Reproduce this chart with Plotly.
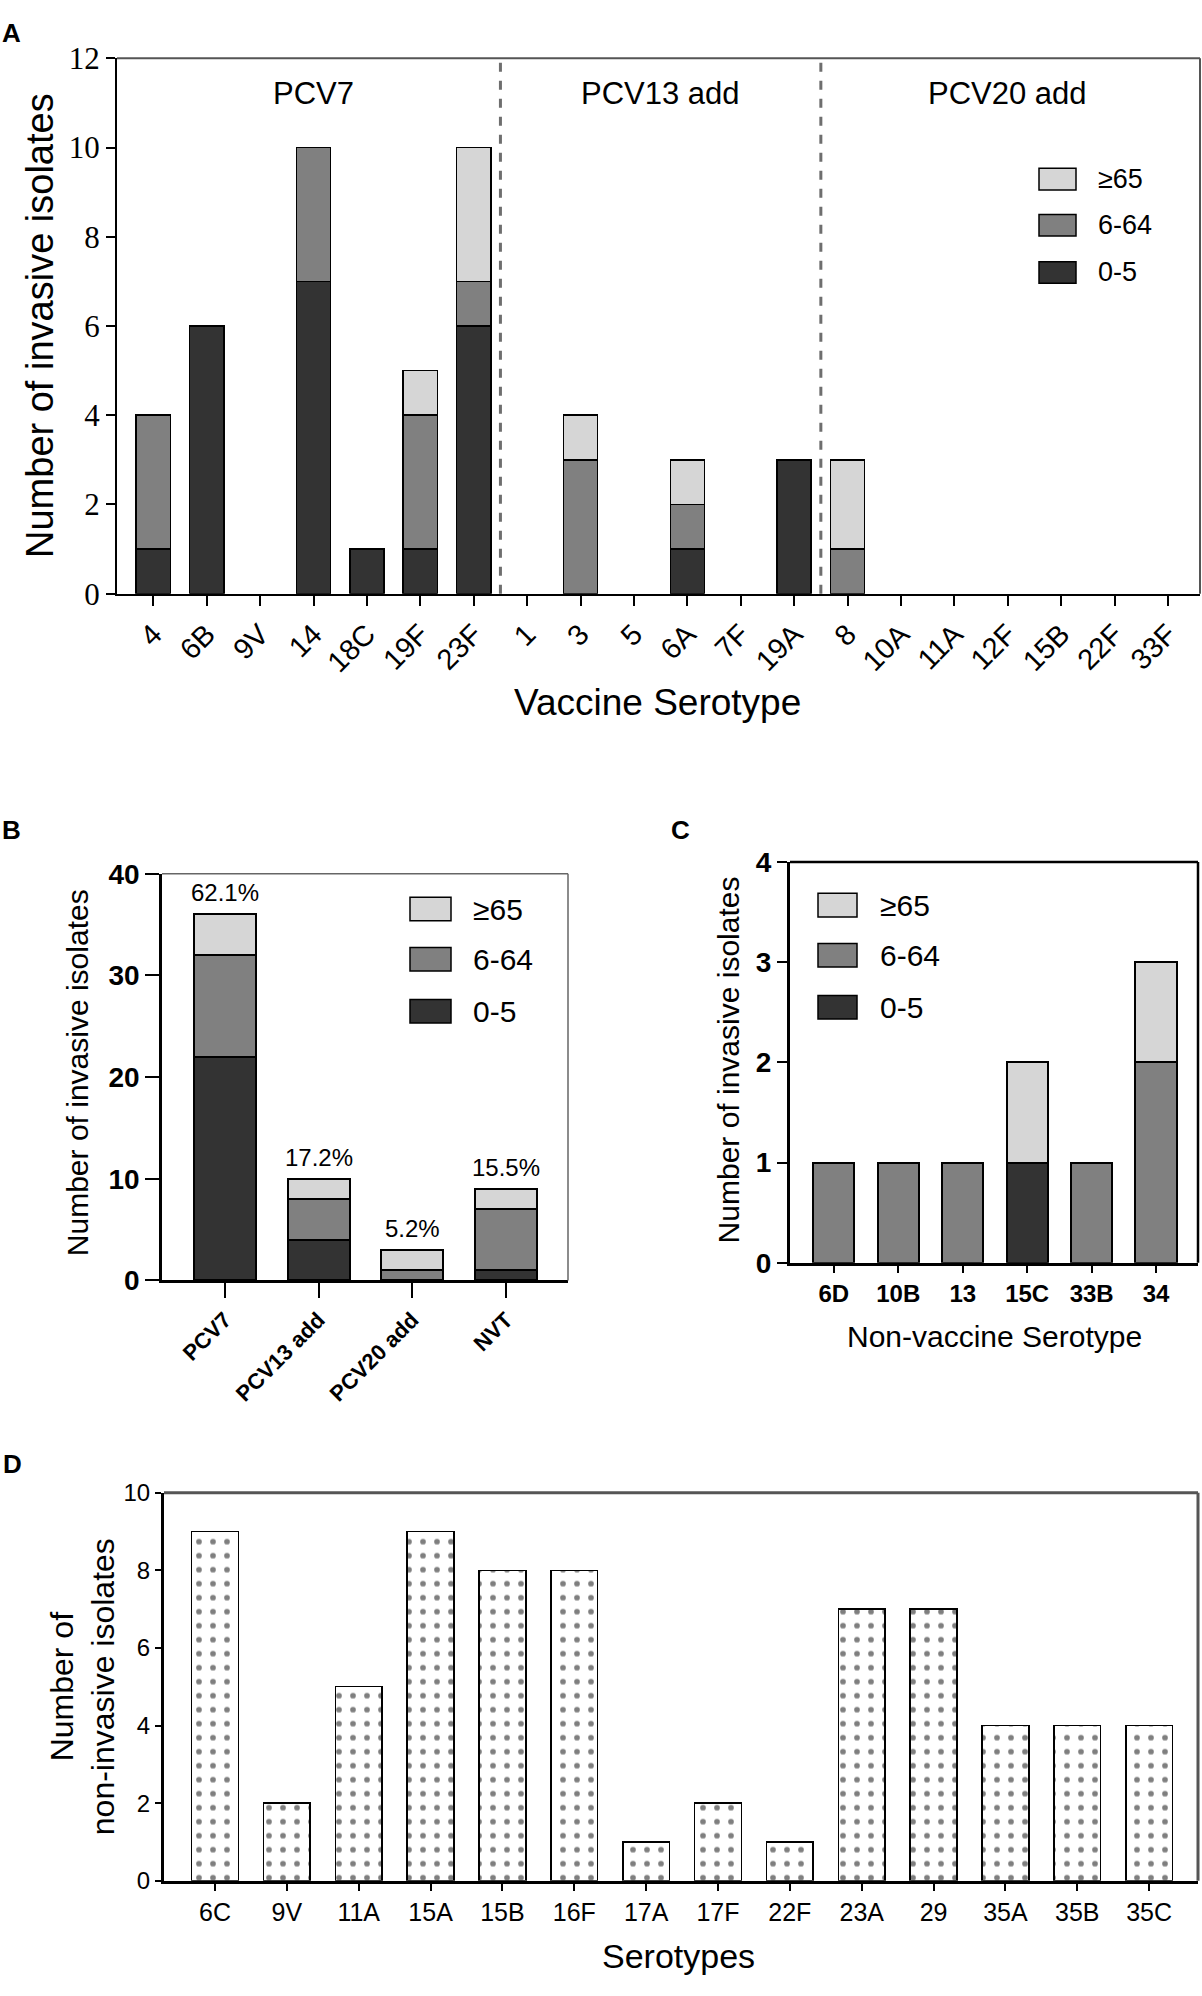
import plotly.graph_objects as go

W, H = 1202, 1996

# ---- data -------------------------------------------------------------
age_groups = ["0-5", "6-64", "≥65"]
age_colors = ["#333333", "#808080", "#d6d6d6"]

# A: invasive isolates by vaccine serotype
a_pcv7 = ["4", "6B", "9V", "14", "18C", "19F", "23F"]
a_pcv13_add = ["1", "3", "5", "6A", "7F", "19A"]
a_pcv20_add = ["8", "10A", "11A", "12F", "15B", "22F", "33F"]
a_serotypes = a_pcv7 + a_pcv13_add + a_pcv20_add
a_0_5 = [1, 6, 0, 7, 1, 1, 6, 0, 0, 0, 1, 0, 3, 0, 0, 0, 0, 0, 0, 0]
a_6_64 = [3, 0, 0, 3, 0, 3, 1, 0, 3, 0, 1, 0, 0, 1, 0, 0, 0, 0, 0, 0]
a_65 = [0, 0, 0, 0, 0, 1, 3, 0, 1, 0, 1, 0, 0, 2, 0, 0, 0, 0, 0, 0]
a_group_names = ["PCV7", "PCV13 add", "PCV20 add"]

# B: invasive isolates by vaccine group
b_groups = ["PCV7", "PCV13 add", "PCV20 add", "NVT"]
b_0_5 = [22, 4, 0, 1]
b_6_64 = [10, 4, 1, 6]
b_65 = [4, 2, 2, 2]

# C: invasive isolates, non-vaccine serotypes
c_serotypes = ["6D", "10B", "13", "15C", "33B", "34"]
c_0_5 = [0, 0, 0, 1, 0, 0]
c_6_64 = [1, 1, 1, 0, 1, 2]
c_65 = [0, 0, 0, 1, 0, 1]

# D: non-invasive isolates
d_serotypes = ["6C", "9V", "11A", "15A", "15B", "16F", "17A", "17F",
               "22F", "23A", "29", "35A", "35B", "35C"]
d_counts = [9, 2, 5, 9, 8, 8, 1, 2, 1, 7, 7, 4, 4, 4]


def fx(px):
    return px / W


def fy(py):
    return 1 - py / H


SANS = "Liberation Sans, Arial, sans-serif"
NARROW = "Liberation Sans Narrow, Arial Narrow, Liberation Sans, sans-serif"
SERIF = "Liberation Serif, Times New Roman, serif"

fig = go.Figure()


def add_stack(x, series, xa, ya, width, lw):
    for name, vals, col in zip(age_groups, series, age_colors):
        # empty segments are skipped so no outline stub is drawn on the axis
        fig.add_trace(go.Bar(
            x=x, y=[v if v else None for v in vals], name=name,
            xaxis=xa, yaxis=ya, width=width, showlegend=False,
            marker=dict(color=col, line=dict(color="black", width=lw)),
        ))


add_stack(a_serotypes, [a_0_5, a_6_64, a_65], "x", "y", 0.64, 1.5)
add_stack(b_groups, [b_0_5, b_6_64, b_65], "x2", "y2", 0.66, 2)
add_stack(c_serotypes, [c_0_5, c_6_64, c_65], "x3", "y3", 0.64, 2)

fig.add_trace(go.Bar(
    x=d_serotypes, y=d_counts, xaxis="x4", yaxis="y4", width=0.65,
    showlegend=False,
    marker=dict(color="white", line=dict(color="black", width=1.5),
                pattern=dict(shape=".", fgcolor="black", bgcolor="white",
                             size=14, solidity=0.13)),
))


def xaxis(dom, rng, anchor, font, angle, ticklen, lw):
    return dict(domain=dom, anchor=anchor, type="category", range=rng,
                showline=True, linecolor="black", linewidth=lw,
                ticks="outside", ticklen=ticklen, tickwidth=2,
                tickcolor="black", tickangle=angle, tickfont=font,
                showgrid=False, zeroline=False, fixedrange=True)


def yaxis(dom, rng, dtick, anchor, font, ticklen, lw):
    return dict(domain=dom, anchor=anchor, range=rng, dtick=dtick,
                showline=True, linecolor="black", linewidth=lw,
                ticks="outside", ticklen=ticklen, tickwidth=2,
                tickcolor="black", tickfont=font,
                showgrid=False, zeroline=False, fixedrange=True)


# panel boxes in pixels: left, top, right, bottom
box_a = (117, 42, 1200, 587)
box_b = (162, 872, 568, 1286)
box_c = (790, 860, 1198, 1268)
box_d = (164, 1502, 1198, 1897)


def dom(box):
    l, t, r, b = box
    return [fx(l), fx(r)], [fy(b), fy(t)]


ax_x, ax_y = dom(box_a)
bx_x, bx_y = dom(box_b)
cx_x, cx_y = dom(box_c)
dx_x, dx_y = dom(box_d)

fig.update_layout(
    width=W, height=H,
    margin=dict(l=0, r=0, t=0, b=0),
    paper_bgcolor="white", plot_bgcolor="white",
    barmode="stack", showlegend=False,
    font=dict(family=SANS, color="black"),
    xaxis=xaxis(ax_x, [-0.68, 19.6], "y",
                dict(family=SANS, size=29, color="black"), -45, 10, 2),
    yaxis=yaxis(ax_y, [0, 12], 2, "x",
                dict(family=SERIF, size=31, color="black"), 9, 2),
    xaxis2=xaxis(bx_x, [-0.67, 3.66], "y2",
                 dict(family=SANS, size=22, color="black", weight="bold"), -45, 15, 2.5),
    yaxis2=yaxis(bx_y, [0, 40], 10, "x2",
                 dict(family=SANS, size=28, color="black", weight="bold"), 14, 2.5),
    xaxis3=xaxis(cx_x, [-0.68, 5.65], "y3",
                 dict(family=NARROW, size=24, color="black", weight="bold"), 0, 7, 3),
    yaxis3=yaxis(cx_y, [0, 4], 1, "x3",
                 dict(family=SANS, size=28, color="black", weight="bold"), 10, 3),
    xaxis4=xaxis(dx_x, [-0.71, 13.68], "y4",
                 dict(family=SANS, size=25, color="black"), 0, 7, 3),
    yaxis4=yaxis(dx_y, [0, 10], 2, "x4",
                 dict(family=SANS, size=24, color="black"), 6, 3),
)

shapes = []
annotations = []


def label(text, x, y, size, family=SANS, angle=0, xanchor="center"):
    annotations.append(dict(x=fx(x), y=fy(y), xref="paper", yref="paper",
                            xanchor=xanchor, yanchor="middle",
                            text=text, textangle=angle, showarrow=False,
                            font=dict(family=family, size=size, color="black")))


# top and right edges of each panel frame
for box, col, w in [(box_a, "#555555", 2), (box_b, "#666666", 1.5),
                    (box_c, "black", 2.5), (box_d, "#555555", 3)]:
    l, t, r, b = box
    shapes.append(dict(type="line", xref="paper", yref="paper",
                       x0=fx(l), x1=fx(r), y0=fy(t), y1=fy(t),
                       line=dict(color=col, width=w)))
    shapes.append(dict(type="line", xref="paper", yref="paper",
                       x0=fx(r), x1=fx(r), y0=fy(t), y1=fy(b),
                       line=dict(color=col, width=w)))

# A: dashed separators and group labels
groups = [a_pcv7, a_pcv13_add, a_pcv20_add]
start = 0
for i, (gname, g) in enumerate(zip(a_group_names, groups)):
    end = start + len(g)
    annotations.append(dict(x=(start + end - 1) / 2, y=fy(78), xref="x", yref="paper",
                            xanchor="center", yanchor="middle",
                            text=gname, showarrow=False,
                            font=dict(family=SANS, size=31, color="black")))
    if i < len(groups) - 1:
        shapes.append(dict(type="line", xref="x", yref="y domain",
                           x0=end - 0.5, x1=end - 0.5, y0=0, y1=1,
                           line=dict(color="#6e6e6e", width=3, dash="dash")))
    start = end

# B: percentage labels above bars
b_totals = [p + q + r for p, q, r in zip(b_0_5, b_6_64, b_65)]
grand = sum(b_totals)
for g, tot in zip(b_groups, b_totals):
    annotations.append(dict(x=g, y=tot, xref="x2", yref="y2",
                            xanchor="center", yanchor="bottom",
                            yshift=6, showarrow=False,
                            text=f"{100 * tot / grand:.1f}%",
                            font=dict(family=NARROW, size=24, color="black")))


# hand-drawn legends (large swatches)
def legend(box_l, box_r, centers, text_x, hgt, size):
    for name, col, cy in zip(age_groups[::-1], age_colors[::-1], centers):
        shapes.append(dict(type="rect", xref="paper", yref="paper",
                           x0=fx(box_l), x1=fx(box_r),
                           y0=fy(cy + hgt / 2), y1=fy(cy - hgt / 2),
                           fillcolor=col, line=dict(color="black", width=1.5)))
        label(name, text_x, cy, size, xanchor="left")


legend(1039, 1076, [165, 212, 260], 1096, 22, 27)
legend(410, 451, [908, 959, 1012], 471, 24, 30)
legend(818, 857, [904, 955, 1008], 878, 24, 30)

# axis titles
label("Number of invasive isolates", 40, (box_a[1] + box_a[3]) / 2, 38, angle=-90)
label("Vaccine Serotype", 657, 698, 37)
label("Number of invasive isolates", 77, 1075, 30, angle=-90)
label("Number of invasive isolates", 728, 1062, 30, angle=-90)
label("Non-vaccine Serotype", 994, 1343, 30)
label("Number of<br>non-invasive isolates", 83, 1700, 32, angle=-90)
label("Serotypes", 678, 1974, 34)

# panel letters
for letter, x, y in [("A", 11, 16), ("B", 11, 828), ("C", 680, 828), ("D", 12, 1473)]:
    label(f"<b>{letter}</b>", x, y, 26)

fig.update_layout(shapes=shapes, annotations=annotations)

# the page's default body margin would push the figure off its 1202x1996 frame
fig.write_html("out.html", config={"displayModeBar": False},
               post_script="document.body.style.margin = '0';")
